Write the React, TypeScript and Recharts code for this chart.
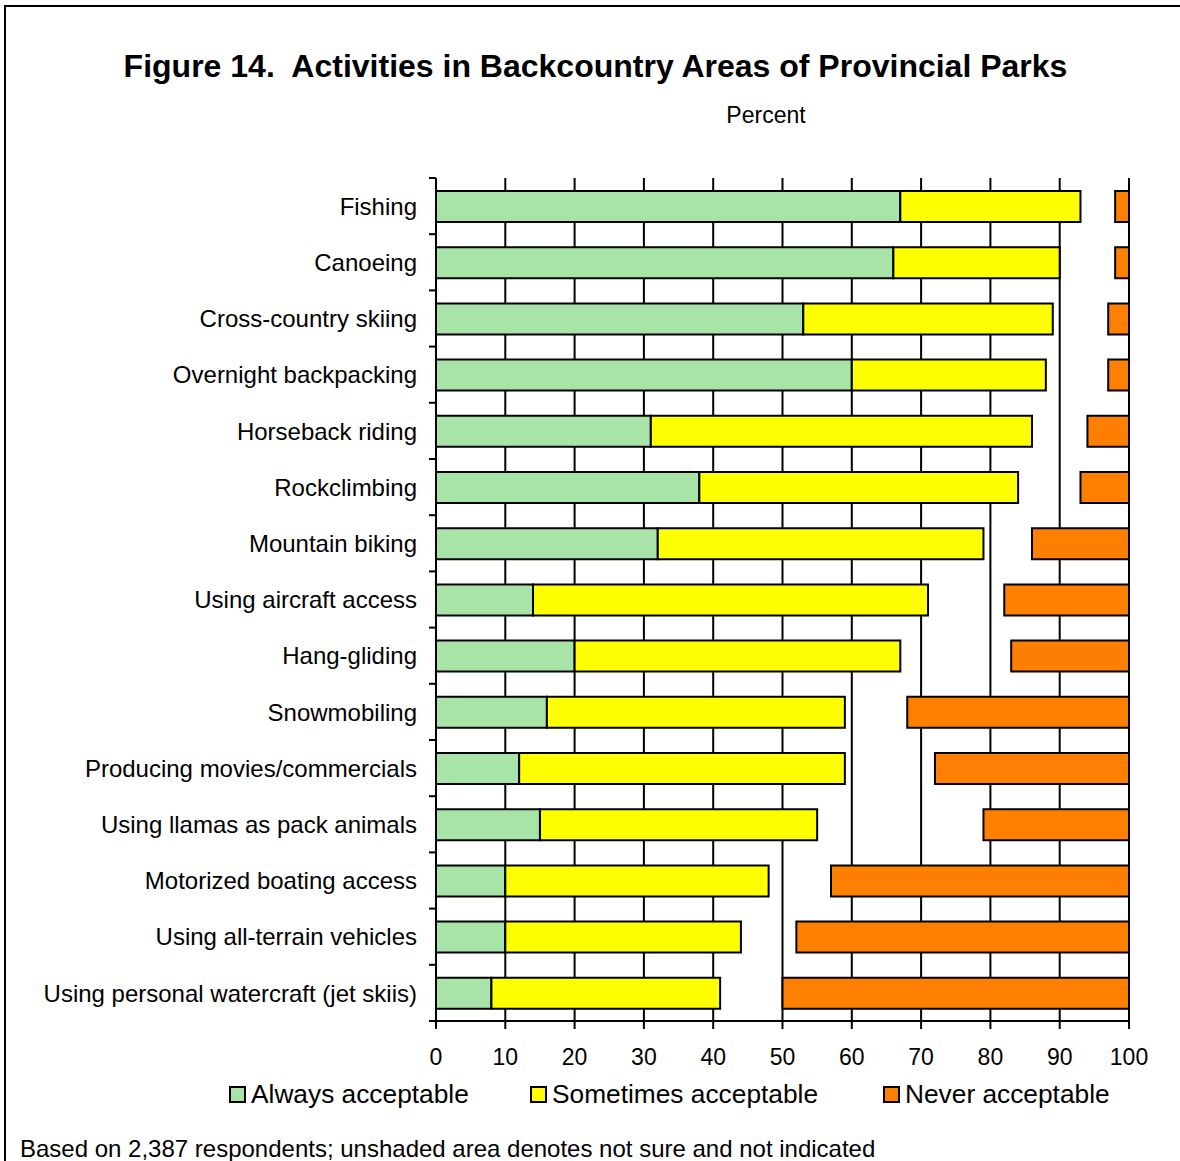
import React from 'react'
import { BarChart, Bar, XAxis, YAxis, CartesianGrid, Legend } from 'recharts'

const categories = [
  'Fishing',
  'Canoeing',
  'Cross-country skiing',
  'Overnight backpacking',
  'Horseback riding',
  'Rockclimbing',
  'Mountain biking',
  'Using aircraft access',
  'Hang-gliding',
  'Snowmobiling',
  'Producing movies/commercials',
  'Using llamas as pack animals',
  'Motorized boating access',
  'Using all-terrain vehicles',
  'Using personal watercraft (jet skiis)',
]

// percent of respondents
const always = [67, 66, 53, 60, 31, 38, 32, 14, 20, 16, 12, 15, 10, 10, 8]
const sometimes = [26, 24, 36, 28, 55, 46, 47, 57, 47, 43, 47, 40, 38, 34, 33]
const notSure = [5, 8, 8, 9, 8, 9, 7, 11, 16, 9, 13, 24, 9, 8, 9]
const never = [2, 2, 3, 3, 6, 7, 14, 18, 17, 32, 28, 21, 43, 48, 50]

const xTicks = [0, 10, 20, 30, 40, 50, 60, 70, 80, 90, 100]

const data = categories.map((name, i) => ({
  name,
  always: always[i],
  sometimes: sometimes[i],
  notSure: notSure[i],
  never: never[i],
}))

const W = 1180
const H = 1161
const PLOT_LEFT = 436
const PLOT_TOP = 178
const PLOT_BOTTOM = 1021
const BAND = (PLOT_BOTTOM - PLOT_TOP) / categories.length
const FONT = 'Arial, "Liberation Sans", sans-serif'

const legendItems = [
  { label: 'Always acceptable', color: '#a8e4a8', x: 229 },
  { label: 'Sometimes acceptable', color: '#ffff00', x: 530 },
  { label: 'Never acceptable', color: '#ff8000', x: 883 },
]

// label + tick marks on the category boundaries (not centres)
const CategoryTick = (props: any) => {
  const { y, payload, index } = props
  return (
    <g>
      <text x={PLOT_LEFT - 19} y={y} dy="0.36em" textAnchor="end" fontSize={24} fontFamily={FONT} fill="#000">
        {payload.value}
      </text>
      <line x1={PLOT_LEFT - 7} x2={PLOT_LEFT} y1={y - BAND / 2} y2={y - BAND / 2} stroke="#000" strokeWidth={2} />
      {index === categories.length - 1 && (
        <line x1={PLOT_LEFT - 7} x2={PLOT_LEFT} y1={y + BAND / 2} y2={y + BAND / 2} stroke="#000" strokeWidth={2} />
      )}
    </g>
  )
}

const LegendContent = () => (
  <div style={{ position: 'relative', width: W, height: 40 }}>
    {legendItems.map(item => (
      <div key={item.label} style={{ position: 'absolute', left: item.x, top: 0, display: 'flex', alignItems: 'center', height: 40 }}>
        <span style={{ display: 'inline-block', width: 13, height: 13, background: item.color, border: '2px solid #000', marginRight: 5 }} />
        <span style={{ fontFamily: FONT, fontSize: 26.3, color: '#000', whiteSpace: 'pre' }}>{item.label}</span>
      </div>
    ))}
  </div>
)

export default function App() {
  return (
    <div style={{ position: 'absolute', left: 0, top: 0, width: W, height: H, background: '#fff', overflow: 'hidden', fontFamily: FONT }}>
      <div style={{ position: 'absolute', left: 4, top: 5, width: W, height: H, borderLeft: '2px solid #000', borderTop: '2px solid #000' }} />
      <div style={{ position: 'absolute', left: 0, top: 50, width: 1191, textAlign: 'center', fontSize: 32, lineHeight: '32px', fontWeight: 'bold', whiteSpace: 'pre' }}>
        {'Figure 14.  Activities in Backcountry Areas of Provincial Parks'}
      </div>
      <div style={{ position: 'absolute', left: 0, top: 104, width: 1532, textAlign: 'center', fontSize: 23, lineHeight: '23px' }}>
        Percent
      </div>
      <BarChart
        width={W}
        height={H}
        data={data}
        layout="vertical"
        barSize={31}
        margin={{ top: PLOT_TOP, right: W - 1129, bottom: 100, left: 16 }}
      >
        <CartesianGrid horizontal={false} stroke="#000" strokeWidth={2} />
        <XAxis
          type="number"
          domain={[0, 100]}
          ticks={xTicks}
          interval={0}
          height={H - 100 - PLOT_BOTTOM}
          tickSize={8}
          tickMargin={20}
          stroke="#000"
          strokeWidth={2}
          tick={{ fill: '#000', fontSize: 23, fontFamily: FONT }}
        />
        <YAxis
          type="category"
          dataKey="name"
          width={PLOT_LEFT - 16}
          tickLine={false}
          interval={0}
          stroke="#000"
          strokeWidth={2}
          tick={<CategoryTick />}
        />
        <Legend
          verticalAlign="middle"
          align="center"
          layout="horizontal"
          wrapperStyle={{ top: 1074, left: 0, width: W }}
          content={<LegendContent />}
        />
        <Bar dataKey="always" stackId="a" fill="#a8e4a8" stroke="#000" strokeWidth={2} isAnimationActive={false} />
        <Bar dataKey="sometimes" stackId="a" fill="#ffff00" stroke="#000" strokeWidth={2} isAnimationActive={false} />
        <Bar dataKey="notSure" stackId="a" fill="none" stroke="none" isAnimationActive={false} />
        <Bar dataKey="never" stackId="a" fill="#ff8000" stroke="#000" strokeWidth={2} isAnimationActive={false} />
      </BarChart>
      <div style={{ position: 'absolute', left: 20, top: 1137, fontSize: 24, lineHeight: '24px', whiteSpace: 'pre' }}>
        Based on 2,387 respondents; unshaded area denotes not sure and not indicated
      </div>
    </div>
  )
}
